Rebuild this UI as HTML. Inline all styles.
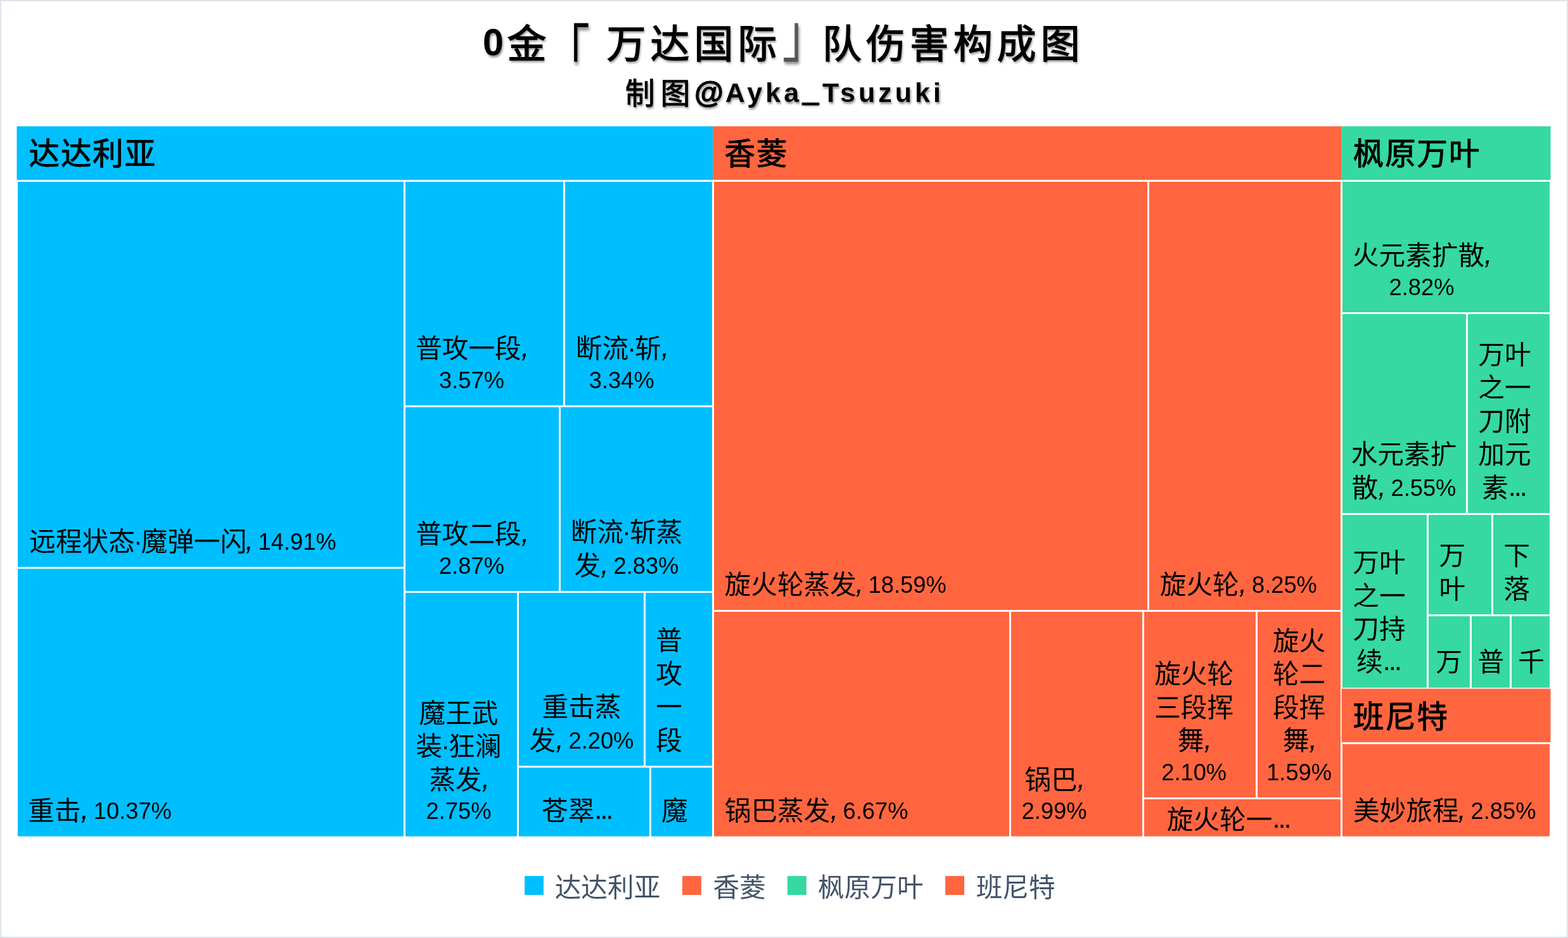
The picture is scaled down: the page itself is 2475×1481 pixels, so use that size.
<!DOCTYPE html>
<html lang="zh-CN"><head><meta charset="utf-8"><title>0金「万达国际」队伤害构成图</title>
<style>
html,body{margin:0;padding:0;background:#fff}
body{width:2475px;height:1481px;overflow:hidden;font-family:"Liberation Sans","Noto Sans CJK SC",sans-serif;color:#000}
#page{position:relative;width:2475px;height:1481px;overflow:hidden;background:#fff}
#f{position:absolute;left:0;top:0;width:2475px;height:1481px;box-sizing:border-box;border:2px solid #DFE2E9}
svg{position:absolute;left:0;top:0}
.t,.h,.g,.ti,.su{position:absolute;white-space:nowrap;font-family:"Liberation Sans","Noto Sans CJK SC",sans-serif}
.t{font-size:41.67px;line-height:60px;height:60px}
.t.c{width:300px;text-align:center}
.n,.d{font-family:"Liberation Sans","Noto Sans CJK SC",sans-serif;font-size:36.3px;line-height:0;position:relative;top:-1.5px}
.e{font-size:44px;letter-spacing:-3.2px;margin-right:3.2px}
.k{font-size:46px;font-style:italic;margin-right:-2.7px}
.d{font-size:41.67px;margin:0 -2px;top:-0.5px}
.h{font-size:48.5px;letter-spacing:1.9px;line-height:70px;height:70px;-webkit-text-stroke:1px #000}
.g{font-size:41.67px;line-height:60px;height:60px;color:#44546A}
.ti{font-size:62px;line-height:80px;height:80px;letter-spacing:6.9px;-webkit-text-stroke:1.5px #000;text-shadow:1.5px 3px 3.5px rgba(0,0,0,.45)}
.ti.tn{font-size:59px;font-weight:700;-webkit-text-stroke:0}
.at{font-size:47px;line-height:0;-webkit-text-stroke:1.2px #000;margin-right:-2px;position:relative;top:1px}
.us{line-height:0;-webkit-text-stroke:3px #000;letter-spacing:6.5px;margin-left:1.5px;position:relative;top:-1px}
.ti.q{color:#555;-webkit-text-stroke:0}
.ti.b1{-webkit-text-stroke:0;transform:scale(1.15,1.5);transform-origin:50% 12.45px}
.ti.b2{transform:scale(1.15,1.5);transform-origin:50% 67.45px}
.su{font-size:46.5px;line-height:60px;height:60px;letter-spacing:9.2px;-webkit-text-stroke:1.1px #000;text-shadow:1.5px 3px 3.5px rgba(0,0,0,.45)}
.su.sn{font-size:43px;font-weight:700;letter-spacing:5px;-webkit-text-stroke:0}
</style></head>
<body>
<div id="page">
<div id="f"></div>
<svg width="2475" height="1481" viewBox="0 0 2475 1481">
<rect x="26.5" y="199.4" width="1099" height="86.1" fill="#00BFFF"/>
<rect x="1125.3" y="199.4" width="992.2" height="86.1" fill="#FF6640"/>
<rect x="2117.3" y="199.4" width="330.2" height="86.1" fill="#35D9A1"/>
<rect x="26.5" y="285.5" width="612" height="611" fill="#00BFFF" stroke="#fff" stroke-width="3"/>
<rect x="26.5" y="896.5" width="612" height="425.5" fill="#00BFFF" stroke="#fff" stroke-width="3"/>
<rect x="638.5" y="285.5" width="252" height="356" fill="#00BFFF" stroke="#fff" stroke-width="3"/>
<rect x="890.5" y="285.5" width="235" height="356" fill="#00BFFF" stroke="#fff" stroke-width="3"/>
<rect x="638.5" y="641.5" width="245" height="293" fill="#00BFFF" stroke="#fff" stroke-width="3"/>
<rect x="883.5" y="641.5" width="242" height="293" fill="#00BFFF" stroke="#fff" stroke-width="3"/>
<rect x="638.5" y="934.5" width="179" height="387.5" fill="#00BFFF" stroke="#fff" stroke-width="3"/>
<rect x="817.5" y="934.5" width="200" height="276" fill="#00BFFF" stroke="#fff" stroke-width="3"/>
<rect x="1017.5" y="934.5" width="108" height="276" fill="#00BFFF" stroke="#fff" stroke-width="3"/>
<rect x="817.5" y="1210.5" width="209" height="111.5" fill="#00BFFF" stroke="#fff" stroke-width="3"/>
<rect x="1026.5" y="1210.5" width="99" height="111.5" fill="#00BFFF" stroke="#fff" stroke-width="3"/>
<rect x="1125.5" y="285.5" width="687" height="679" fill="#FF6640" stroke="#fff" stroke-width="3"/>
<rect x="1812.5" y="285.5" width="305" height="679" fill="#FF6640" stroke="#fff" stroke-width="3"/>
<rect x="1125.5" y="964.5" width="469" height="357.5" fill="#FF6640" stroke="#fff" stroke-width="3"/>
<rect x="1594.5" y="964.5" width="210" height="357.5" fill="#FF6640" stroke="#fff" stroke-width="3"/>
<rect x="1804.5" y="964.5" width="179" height="296" fill="#FF6640" stroke="#fff" stroke-width="3"/>
<rect x="1983.5" y="964.5" width="134" height="296" fill="#FF6640" stroke="#fff" stroke-width="3"/>
<rect x="1804.5" y="1260.5" width="313" height="61.5" fill="#FF6640" stroke="#fff" stroke-width="3"/>
<rect x="2117.5" y="285.5" width="330" height="209" fill="#35D9A1" stroke="#fff" stroke-width="3"/>
<rect x="2117.5" y="494.5" width="198" height="317" fill="#35D9A1" stroke="#fff" stroke-width="3"/>
<rect x="2315.5" y="494.5" width="132" height="317" fill="#35D9A1" stroke="#fff" stroke-width="3"/>
<rect x="2117.5" y="811.5" width="136" height="275.8" fill="#35D9A1" stroke="#fff" stroke-width="3"/>
<rect x="2253.5" y="811.5" width="102" height="160" fill="#35D9A1" stroke="#fff" stroke-width="3"/>
<rect x="2355.5" y="811.5" width="92" height="160" fill="#35D9A1" stroke="#fff" stroke-width="3"/>
<rect x="2253.5" y="971.5" width="68" height="115.8" fill="#35D9A1" stroke="#fff" stroke-width="3"/>
<rect x="2321.5" y="971.5" width="63" height="115.8" fill="#35D9A1" stroke="#fff" stroke-width="3"/>
<rect x="2384.5" y="971.5" width="63" height="115.8" fill="#35D9A1" stroke="#fff" stroke-width="3"/>
<rect x="2117.6" y="1087.4" width="329.9" height="86" fill="#FF6640"/>
<rect x="2117.5" y="1173.4" width="330" height="148.6" fill="#FF6640" stroke="#fff" stroke-width="3"/>
<rect x="828.1" y="1383.1" width="29.9" height="29.9" fill="#00BFFF"/>
<rect x="1077" y="1383.1" width="29.9" height="29.9" fill="#FF6640"/>
<rect x="1243" y="1383.1" width="29.9" height="29.9" fill="#35D9A1"/>
<rect x="1492.1" y="1383.1" width="29.9" height="29.9" fill="#FF6640"/>
</svg>
<div class="ti tn" id="t0" style="left:762px;top:27.2px">0</div><div class="ti" id="t1" style="left:800.6px;top:31.05px">金</div><div class="ti b1" id="t2" style="left:864.5px;top:31.05px">「</div><div class="ti" id="t3" style="left:957.6px;top:31.05px">万达国际</div><div class="ti q b2" id="t4" style="left:1240px;top:31.05px">」</div><div class="ti" id="t5" style="left:1298px;top:31.05px">队伤害构成图</div>
<div class="su" id="s0" style="left:987px;top:118.16px">制图</div><div class="su sn" id="s1" style="left:1096px;top:115.6px"><span class="at">@</span>Ayka<span class="us">_</span>Tsuzuki</div>
<div class="t" id="L0_0" style="left:46.3px;top:825.5px">远程状态<span class="d">·</span>魔弹一闪<span class="n k" style="margin-left:-2px">,</span><span class="n"> 14.91%</span></div>
<div class="t" id="L1_0" style="left:44.3px;top:1250.5px">重击<span class="n k">,</span><span class="n"> 10.37%</span></div>
<div class="t c" id="L2_0" style="left:594.5px;top:520.5px">普攻一段<span class="n k">,</span></div>
<div class="t c" id="L2_1" style="left:594.5px;top:570.5px"><span class="n">3.57%</span></div>
<div class="t c" id="L3_0" style="left:831.3px;top:520.5px">断流<span class="d">·</span>斩<span class="n k">,</span></div>
<div class="t c" id="L3_1" style="left:831.3px;top:570.5px"><span class="n">3.34%</span></div>
<div class="t c" id="L4_0" style="left:594.5px;top:813.5px">普攻二段<span class="n k">,</span></div>
<div class="t c" id="L4_1" style="left:594.5px;top:863.5px"><span class="n">2.87%</span></div>
<div class="t c" id="L5_0" style="left:839px;top:810.5px">断流<span class="d">·</span>斩蒸</div>
<div class="t c" id="L5_1" style="left:839px;top:863.5px">发<span class="n k">,</span><span class="n"> 2.83%</span></div>
<div class="t c" id="L6_0" style="left:574px;top:1096.5px">魔王武</div>
<div class="t c" id="L6_1" style="left:574px;top:1148.5px">装<span class="d">·</span>狂澜</div>
<div class="t c" id="L6_2" style="left:574px;top:1201.5px">蒸发<span class="n k">,</span></div>
<div class="t c" id="L6_3" style="left:574px;top:1250.5px"><span class="n">2.75%</span></div>
<div class="t c" id="L7_0" style="left:768px;top:1086.5px">重击蒸</div>
<div class="t c" id="L7_1" style="left:768px;top:1139.5px">发<span class="n k">,</span><span class="n"> 2.20%</span></div>
<div class="t c" id="L8_0" style="left:906px;top:981.5px">普</div>
<div class="t c" id="L8_1" style="left:906px;top:1034.5px">攻</div>
<div class="t c" id="L8_2" style="left:906px;top:1086.5px">一</div>
<div class="t c" id="L8_3" style="left:906px;top:1139.5px">段</div>
<div class="t" id="L9_0" style="left:855px;top:1250.5px">苍翠<span class="n e">...</span></div>
<div class="t" id="L10_0" style="left:1044px;top:1250.5px">魔</div>
<div class="t" id="L11_0" style="left:1143.6px;top:893.5px">旋火轮蒸发<span class="n k" style="margin-left:-1.5px">,</span><span class="n"> 18.59%</span></div>
<div class="t" id="L12_0" style="left:1830.8px;top:893.5px">旋火轮<span class="n k">,</span><span class="n"> 8.25%</span></div>
<div class="t" id="L13_0" style="left:1143.8px;top:1250.5px">锅巴蒸发<span class="n k">,</span><span class="n"> 6.67%</span></div>
<div class="t c" id="L14_0" style="left:1514px;top:1201.5px">锅巴<span class="n k">,</span></div>
<div class="t c" id="L14_1" style="left:1514px;top:1250.5px"><span class="n">2.99%</span></div>
<div class="t c" id="L15_0" style="left:1734.7px;top:1034.5px">旋火轮</div>
<div class="t c" id="L15_1" style="left:1734.7px;top:1087.5px">三段挥</div>
<div class="t c" id="L15_2" style="left:1734.7px;top:1139.5px">舞<span class="n k">,</span></div>
<div class="t c" id="L15_3" style="left:1734.7px;top:1189.5px"><span class="n">2.10%</span></div>
<div class="t c" id="L16_0" style="left:1900.6px;top:982.5px">旋火</div>
<div class="t c" id="L16_1" style="left:1900.6px;top:1034.5px">轮二</div>
<div class="t c" id="L16_2" style="left:1900.6px;top:1087.5px">段挥</div>
<div class="t c" id="L16_3" style="left:1900.6px;top:1139.5px">舞<span class="n k">,</span></div>
<div class="t c" id="L16_4" style="left:1900.6px;top:1189.5px"><span class="n">1.59%</span></div>
<div class="t" id="L17_0" style="left:1841.8px;top:1264.5px">旋火轮一<span class="n e">...</span></div>
<div class="t c" id="L18_0" style="left:2094px;top:373.5px">火元素扩散<span class="n k">,</span></div>
<div class="t c" id="L18_1" style="left:2094px;top:423.5px"><span class="n">2.82%</span></div>
<div class="t c" id="L19_0" style="left:2066px;top:687.5px">水元素扩</div>
<div class="t c" id="L19_1" style="left:2066px;top:740.5px">散<span class="n k">,</span><span class="n"> 2.55%</span></div>
<div class="t c" id="L20_0" style="left:2225px;top:530.5px">万叶</div>
<div class="t c" id="L20_1" style="left:2225px;top:582.5px">之一</div>
<div class="t c" id="L20_2" style="left:2225px;top:635.5px">刀附</div>
<div class="t c" id="L20_3" style="left:2225px;top:687.5px">加元</div>
<div class="t c" id="L20_4" style="left:2225px;top:740.5px">素<span class="n e">...</span></div>
<div class="t c" id="L21_0" style="left:2027px;top:858.5px">万叶</div>
<div class="t c" id="L21_1" style="left:2027px;top:911.5px">之一</div>
<div class="t c" id="L21_2" style="left:2027px;top:963.5px">刀持</div>
<div class="t c" id="L21_3" style="left:2027px;top:1015.5px">续<span class="n e">...</span></div>
<div class="t c" id="L22_0" style="left:2142.3px;top:847.5px">万</div>
<div class="t c" id="L22_1" style="left:2142.3px;top:900.5px">叶</div>
<div class="t c" id="L23_0" style="left:2244px;top:847.5px">下</div>
<div class="t c" id="L23_1" style="left:2244px;top:900.5px">落</div>
<div class="t c" id="L24_0" style="left:2137px;top:1015.5px">万</div>
<div class="t c" id="L25_0" style="left:2203.3px;top:1015.5px">普</div>
<div class="t c" id="L26_0" style="left:2267px;top:1015.5px">千</div>
<div class="t" id="L27_0" style="left:2136px;top:1250.5px">美妙旅程<span class="n k" style="margin-left:-1.3px">,</span><span class="n"> 2.85%</span></div>
<div class="h" id="H0" style="left:45.5px;top:207.94px">达达利亚</div>
<div class="h" id="H1" style="left:1143.5px;top:207.94px">香菱</div>
<div class="h" id="H2" style="left:2135.8px;top:207.94px">枫原万叶</div>
<div class="h" id="H3" style="left:2135.8px;top:1096.64px">班尼特</div>
<div class="g" id="G0" style="left:875.7px;top:1371.73px">达达利亚</div>
<div class="g" id="G1" style="left:1125.5px;top:1371.73px">香菱</div>
<div class="g" id="G2" style="left:1291px;top:1371.73px">枫原万叶</div>
<div class="g" id="G3" style="left:1540.7px;top:1371.73px">班尼特</div>
</div>
</body></html>
